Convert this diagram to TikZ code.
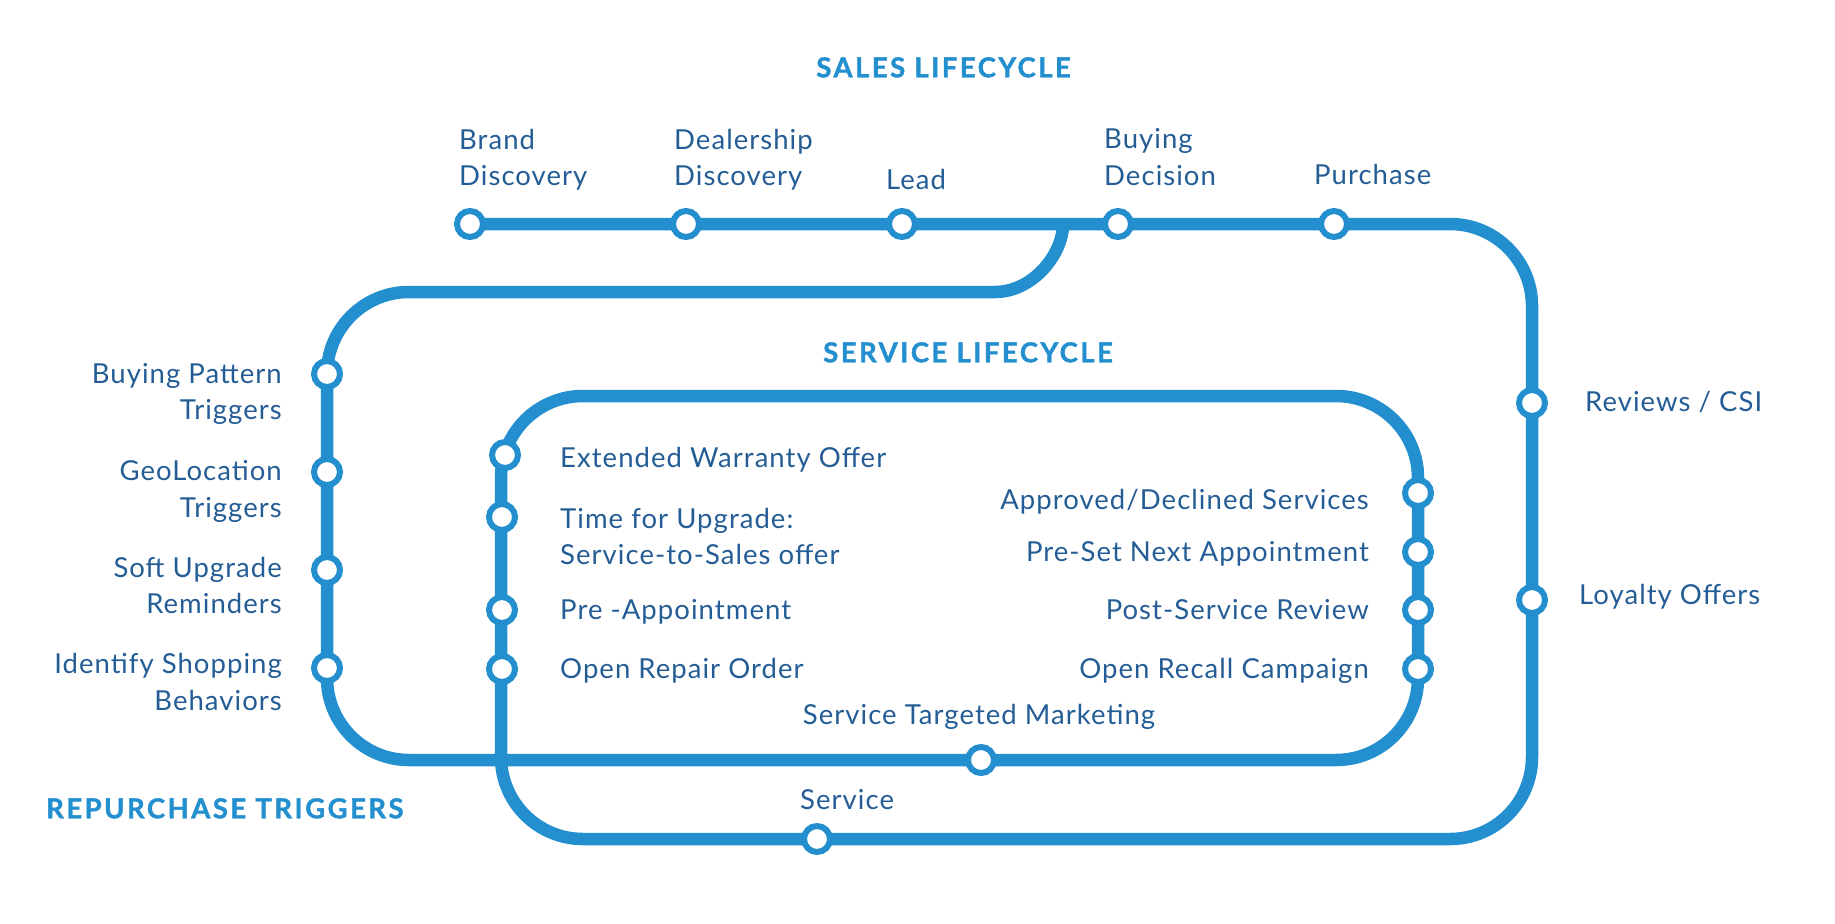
\documentclass[tikz,border=0pt]{standalone}
\usepackage{fontspec}
\newfontfamily\labfont[LetterSpace=3.8]{Lato}
\newfontfamily\titfont[LetterSpace=9,BoldFeatures={FakeBold=1.3}]{Lato}
\definecolor{lineblue}{RGB}{35,143,207}
\definecolor{textblue}{RGB}{36,93,149}
\tikzset{
  track/.style={draw=lineblue, line width=12.5pt, rounded corners=82pt},
  stn/.style={circle, draw=lineblue, fill=white, line width=6pt, minimum size=26pt, inner sep=0pt},
  lab/.style={text=textblue, font=\labfont\fontsize{27.5}{36.5}\selectfont, inner sep=0pt},
  ttl/.style={text=lineblue, font=\titfont\bfseries\fontsize{27.5}{32}\selectfont, inner sep=0pt},
}
\begin{document}
\begin{tikzpicture}[x=1pt,y=-1pt]
\useasboundingbox (0,0) rectangle (1835,923);
% track
\coordinate (start) at (470,224);
\coordinate (mergeA) at (995,292);
\coordinate (mergeB) at (1063,224);
\draw[track] (start) -- (1532,224) -- (1532,839) -- (501,839) -- (501,396)
  -- (1418,396) -- (1418,760) -- (327,760) -- (327,292) -- (mergeA);
\draw[draw=lineblue, line width=12.5pt] (mergeA) .. controls (1032.5,292) and (1063,254.5) .. (mergeB);
% stations: sales
\node[stn] (brand) at (470,224) {};
\node[stn] (dealer) at (686,224) {};
\node[stn] (lead) at (902,224) {};
\node[stn] (buying) at (1118,224) {};
\node[stn] (purchase) at (1334,224) {};
\node[stn] (reviews) at (1532,403) {};
\node[stn] (loyalty) at (1532,600) {};
\node[stn] (service) at (817,839) {};
% stations: service loop
\node[stn] (ewo) at (505,455) {};
\node[stn] (tfu) at (502,517) {};
\node[stn] (preapp) at (502,610) {};
\node[stn] (oro) at (502,669) {};
\node[stn] (adc) at (1418,493) {};
\node[stn] (psna) at (1418,552) {};
\node[stn] (psr) at (1418,610) {};
\node[stn] (orc) at (1418,669) {};
\node[stn] (stm) at (981,760) {};
% stations: repurchase
\node[stn] (bpt) at (327,374) {};
\node[stn] (geo) at (327,472) {};
\node[stn] (sur) at (327,570) {};
\node[stn] (isb) at (327,668) {};
% titles
\node[ttl, anchor=base] (t1) at (943.5,77.3) {SALES LIFECYCLE};
\node[ttl, anchor=base] (t2) at (968,362.3) {SERVICE LIFECYCLE};
\node[ttl, anchor=base west] (t3) at (46,818.3) {REPURCHASE TRIGGERS};
% top labels (base = last line)
\node[lab, anchor=base west, align=left] (lbrand) at (459,185.5) {Brand\\Discovery};
\node[lab, anchor=base west, align=left] (ldealer) at (674,185.5) {Dealership\\Discovery};
\node[lab, anchor=base west] (llead) at (886,189) {Lead};
\node[lab, anchor=base west, align=left] (lbuying) at (1104,185) {Buying\\Decision};
\node[lab, anchor=base west] (lpurchase) at (1314,184) {Purchase};
% right labels
\node[lab, anchor=base west] (lreviews) at (1585,411) {Reviews / CSI};
\node[lab, anchor=base west] (lloyalty) at (1579,604) {Loyalty Offers};
\node[lab, anchor=base west] (lservice) at (800,809.3) {Service};
% left labels
\node[lab, anchor=base east, align=right] (lbpt) at (282,419.5) {Buying Pattern\\Triggers};
\node[lab, anchor=base east, align=right] (lgeo) at (282,517) {GeoLocation\\Triggers};
\node[lab, anchor=base east, align=right] (lsur) at (282,613.6) {Soft Upgrade\\Reminders};
\node[lab, anchor=base east, align=right] (lisb) at (282,710) {Identify Shopping\\Behaviors};
% service inner left
\node[lab, anchor=base west] (lewo) at (560,467.7) {Extended Warranty Offer};
\node[lab, anchor=base west, align=left] (ltfu) at (560,564.5) {Time for Upgrade:\\Service-to-Sales offer};
\node[lab, anchor=base west] (lpreapp) at (560,619) {Pre -Appointment};
\node[lab, anchor=base west] (loro) at (560,678) {Open Repair Order};
% service inner right
\node[lab, anchor=base east] (ladc) at (1369,509.3) {Approved/Declined Services};
\node[lab, anchor=base east] (lpsna) at (1369,561) {Pre-Set Next Appointment};
\node[lab, anchor=base east] (lpsr) at (1369,619.3) {Post-Service Review};
\node[lab, anchor=base east] (lorc) at (1369,678.5) {Open Recall Campaign};
\node[lab, anchor=base] (lstm) at (979,724.5) {Service Targeted Marketing};
\end{tikzpicture}
\end{document}
